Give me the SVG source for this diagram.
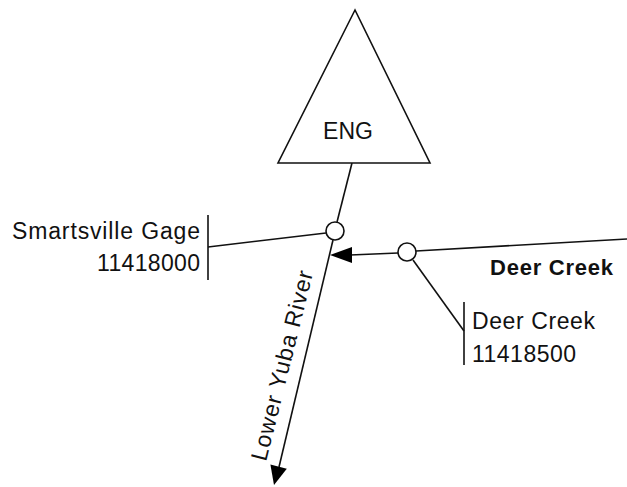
<svg xmlns="http://www.w3.org/2000/svg" width="627" height="487" viewBox="0 0 627 487">
<defs>
<style>
.ln{stroke:#111;stroke-width:1.6;fill:none}
.nd{stroke:#111;stroke-width:1.6;fill:#fff}
.ah{fill:#000}
.t{font-family:"Liberation Sans",Arial,sans-serif;font-size:23px;fill:#111}
.b{font-weight:bold;font-size:22px}
</style>
</defs>
<rect width="627" height="487" fill="#fff"/>
<g id="connectors">
<line class="ln" x1="352" y1="163" x2="337" y2="222"/>
<line class="ln" x1="333" y1="240" x2="279" y2="467"/>
<path class="ah" d="M274,485 L270.4,464.5 L286.8,468.7 Z"/>
<line class="ln" x1="208" y1="247" x2="326" y2="233"/>
<line class="ln" x1="627" y1="239" x2="416" y2="251"/>
<line class="ln" x1="398" y1="253" x2="350" y2="255"/>
<path class="ah" d="M330,255 L352,247 L352,263 Z"/>
<line class="ln" x1="413" y1="260" x2="464" y2="331"/>
</g>
<g id="eng">
<polygon class="nd" points="355,10 278,163 430,163"/>
<text class="t" x="323" y="139" textLength="50">ENG</text>
</g>
<g id="smartsville">
<circle class="nd" cx="335" cy="231" r="9"/>
<line class="ln" x1="208" y1="215" x2="208" y2="280"/>
<text class="t" x="12" y="239" textLength="188">Smartsville Gage</text>
<text class="t" x="97" y="271" textLength="103">11418000</text>
</g>
<g id="deercreek-gage">
<circle class="nd" cx="407" cy="252" r="9"/>
<line class="ln" x1="464" y1="302" x2="464" y2="365"/>
<text class="t" x="472" y="329" textLength="123">Deer Creek</text>
<text class="t" x="472" y="362" textLength="104">11418500</text>
</g>
<g id="labels">
<text class="t b" x="490" y="275" textLength="123">Deer Creek</text>
<text class="t" transform="translate(266,462) rotate(-76)" textLength="195">Lower Yuba River</text>
</g>
</svg>
